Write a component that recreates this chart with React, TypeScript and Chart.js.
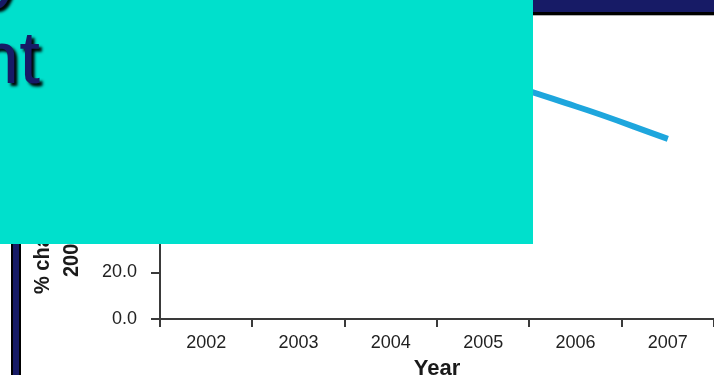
import React, { useEffect, useRef } from "react";
import { Chart, registerables } from "chart.js";

Chart.register(...registerables);

// ---- data ----
const years: string[] = ["2002", "2003", "2004", "2005", "2006", "2007"];
const percentValues: number[] = [100, 104, 107, 103, 91.5, 77.5];
const yMin = 0;
const yMax = 120;
const yStep = 20;
const xAxisTitle = "Year";
const yAxisTitleLines: string[] = ["% change from baseline", "2002 levels"];
const slideTitleLines: string[] = ["Youth Tobacco Use Trend by Study", "Percent of Baseline Enrollment"];

const FONT = "'Liberation Sans', Arial, Helvetica, sans-serif";
const NAVY = "#171b66";
const TEAL = "#00e0cc";
const LINE_BLUE = "#1ea6dd";
const AXIS = "#3a3a3a";

export default function App() {
  const canvasRef = useRef<HTMLCanvasElement | null>(null);

  useEffect(() => {
    const canvas = canvasRef.current;
    if (!canvas) return;
    const chart = new Chart(canvas, {
      type: "line",
      data: {
        labels: years,
        datasets: [
          {
            data: percentValues,
            borderColor: LINE_BLUE,
            borderWidth: 6,
            pointRadius: 0,
            tension: 0.4,
            fill: false,
            borderCapStyle: "butt",
          },
        ],
      },
      options: {
        animation: false,
        responsive: false,
        maintainAspectRatio: false,
        layout: { padding: { top: 40, left: 0, right: 0, bottom: 0 } },
        plugins: {
          legend: { display: false },
          tooltip: { enabled: false },
        },
        scales: {
          x: {
            offset: true,
            grid: {
              offset: true,
              drawOnChartArea: false,
              tickLength: 8,
              color: AXIS,
              lineWidth: 2,
            },
            border: { color: AXIS, width: 2 },
            ticks: {
              font: { family: FONT, size: 18 },
              color: "#222",
              padding: 5,
              maxRotation: 0,
              autoSkip: false,
            },
            title: {
              display: true,
              text: xAxisTitle,
              font: { family: FONT, size: 22, weight: "bold" },
              color: "#1a1a1a",
              padding: { top: 0, bottom: 0 },
            },
            afterFit: (s: any) => {
              s.height = 63;
            },
          },
          y: {
            min: yMin,
            max: yMax,
            grid: {
              drawOnChartArea: false,
              tickLength: 9,
              color: AXIS,
              lineWidth: 2,
            },
            border: { color: AXIS, width: 2 },
            ticks: {
              stepSize: yStep,
              font: { family: FONT, size: 18 },
              color: "#222",
              padding: 14,
              callback: (v: any) => Number(v).toFixed(1),
            },
            afterFit: (s: any) => {
              s.width = 160;
            },
          },
        },
      },
    });
    return () => chart.destroy();
  }, []);

  const yTitleStyle = (left: number, top: number): React.CSSProperties => ({
    position: "absolute",
    left,
    top,
    width: 300,
    transform: "rotate(-90deg) scaleY(1.1)",
    transformOrigin: "top left",
    fontFamily: FONT,
    fontWeight: "bold",
    fontSize: 20,
    lineHeight: "28px",
    color: "#1a1a1a",
    whiteSpace: "nowrap",
    textAlign: "left",
  });

  const titleStyle = (left: number, top: number, width: number): React.CSSProperties => ({
    position: "absolute",
    left,
    top,
    width,
    textAlign: "right",
    whiteSpace: "nowrap",
    fontFamily: FONT,
    fontSize: 75,
    lineHeight: "88px",
    color: NAVY,
    textShadow: "3px 3px 3px #000",
  });

  return (
    <div
      style={{
        position: "fixed",
        left: 0,
        top: 0,
        width: 714,
        height: 375,
        overflow: "hidden",
        background: "#fff",
      }}
    >
      {/* top navy bar of the slide */}
      <div style={{ position: "absolute", left: 0, top: 0, width: 714, height: 12, background: NAVY }} />
      <div style={{ position: "absolute", left: 0, top: 12, width: 714, height: 3, background: "#000" }} />
      <div style={{ position: "absolute", left: 0, top: 15, width: 714, height: 1, background: "#b0b0b0" }} />
      {/* left vertical double rule */}
      <div style={{ position: "absolute", left: 11, top: 15, width: 2, height: 360, background: "#000" }} />
      <div style={{ position: "absolute", left: 13, top: 15, width: 6, height: 360, background: NAVY }} />
      <div style={{ position: "absolute", left: 19, top: 15, width: 2, height: 360, background: "#000" }} />

      <canvas
        ref={canvasRef}
        width={714}
        height={382}
        style={{ position: "absolute", left: 0, top: 0, width: 714, height: 382 }}
      />

      {/* y axis title (rotated, two lines) */}
      <div style={yTitleStyle(26, 294)}>{yAxisTitleLines[0]}</div>
      <div style={yTitleStyle(55, 277)}>{yAxisTitleLines[1]}</div>

      {/* teal overlay box with clipped slide title */}
      <div
        style={{
          position: "absolute",
          left: 0,
          top: 0,
          width: 533,
          height: 244,
          background: TEAL,
          overflow: "hidden",
        }}
      >
        <div style={titleStyle(-1300, -76, 1326)}>{slideTitleLines[0]}</div>
        <div style={titleStyle(-1300, 13, 1340)}>{slideTitleLines[1]}</div>
      </div>
    </div>
  );
}
